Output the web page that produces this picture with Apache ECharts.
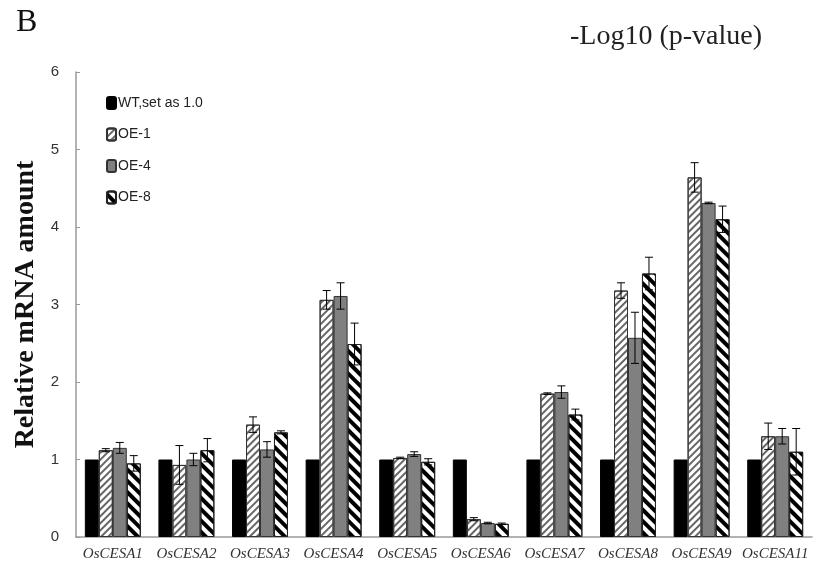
<!DOCTYPE html>
<html>
<head>
<meta charset="utf-8">
<script src="https://cdn.jsdelivr.net/npm/echarts@6/dist/echarts.min.js"></script>
<style>
  html, body { margin: 0; padding: 0; background: #fff; }
  #main { width: 819px; height: 584px; }
</style>
</head>
<body>
<div id="main"></div>
<script>
// 基因名称
var genes = ['OsCESA1', 'OsCESA2', 'OsCESA3', 'OsCESA4', 'OsCESA5',
             'OsCESA6', 'OsCESA7', 'OsCESA8', 'OsCESA9', 'OsCESA11'];
var seriesNames = ['WT,set as 1.0', 'OE-1', 'OE-4', 'OE-8'];

// 相对表达量
var wt  = [1, 1, 1, 1, 1, 1, 1, 1, 1, 1];
var oe1 = [1.12, 0.93, 1.45, 3.06, 1.02, 0.23, 1.85, 3.18, 4.64, 1.30];
var oe4 = [1.15, 1.00, 1.13, 3.11, 1.07, 0.18, 1.87, 2.57, 4.31, 1.30];
var oe8 = [0.95, 1.12, 1.35, 2.49, 0.97, 0.17, 1.58, 3.40, 4.10, 1.10];

// 误差
var oe1Err = [0.02, 0.25, 0.10, 0.12, 0.01, 0.02, 0.01, 0.10, 0.19, 0.17];
var oe4Err = [0.07, 0.08, 0.10, 0.17, 0.03, 0.01, 0.08, 0.33, 0.01, 0.10];
var oe8Err = [0.10, 0.15, 0.02, 0.27, 0.04, 0.01, 0.07, 0.21, 0.17, 0.30];

var yTicks = [0, 1, 2, 3, 4, 5, 6];

var catGap = 0.24;

var chart = echarts.init(document.getElementById('main'));

// 误差线数据 [类别, 下限, 上限, 系列序号]
function errData(vals, errs, idx) {
    return vals.map(function (v, i) {
        return [i, v - errs[i], v + errs[i], idx];
    });
}

function renderErr(params, api) {
    var band = api.size([1, 0])[0];
    var barW = band * (1 - catGap) / 4;
    var idx = api.value(3);
    var off = (idx - 1.5) * barW;
    var lo = api.coord([api.value(0), api.value(1)]);
    var hi = api.coord([api.value(0), api.value(2)]);
    var x = lo[0] + off;
    var cap = 4;
    var st = { stroke: '#000', lineWidth: 1 };
    return {
        type: 'group',
        children: [
            { type: 'line', shape: { x1: x, y1: lo[1], x2: x, y2: hi[1] }, style: st },
            { type: 'line', shape: { x1: x - cap, y1: hi[1], x2: x + cap, y2: hi[1] }, style: st },
            { type: 'line', shape: { x1: x - cap, y1: lo[1], x2: x + cap, y2: lo[1] }, style: st }
        ]
    };
}

var option = {
    animation: false,
    backgroundColor: '#fff',
    title: [
        { text: 'B', left: 11, top: 2,
          textStyle: { fontFamily: 'Liberation Serif', fontSize: 32, fontWeight: 'normal', color: '#111' } },
        { text: '-Log10 (p-value)', left: 565, top: 18,
          textStyle: { fontFamily: 'Liberation Serif', fontSize: 28, fontWeight: 'normal', color: '#222' } }
    ],
    legend: {
        orient: 'vertical',
        left: 101,
        top: 91,
        itemWidth: 9,
        itemHeight: 12,
        itemGap: 17.5,
        data: seriesNames,
        textStyle: { fontFamily: 'Liberation Sans', fontSize: 14, color: '#222', padding: [0, 0, 0, -3] }
    },
    grid: { left: 76, right: 7, top: 72, bottom: 47 },
    xAxis: {
        type: 'category',
        data: genes,
        axisLine: { lineStyle: { color: '#999', width: 1.5 } },
        axisTick: { inside: true, length: 4, lineStyle: { color: '#999' } },
        axisLabel: { interval: 0, fontFamily: 'Liberation Serif', fontStyle: 'italic', fontSize: 15, color: '#333', margin: 10 }
    },
    yAxis: {
        type: 'value',
        min: yTicks[0],
        max: yTicks[yTicks.length - 1],
        interval: 1,
        name: 'Relative mRNA amount',
        nameLocation: 'middle',
        nameGap: 30,
        nameTextStyle: { fontFamily: 'Liberation Serif', fontSize: 28, fontWeight: 'bold', color: '#111' },
        axisLine: { show: true, lineStyle: { color: '#999', width: 1.5 } },
        axisTick: { show: true, inside: true, length: 4, lineStyle: { color: '#999' } },
        axisLabel: { fontFamily: 'Liberation Sans', fontSize: 15, color: '#333', margin: 17 },
        splitLine: { show: false }
    },
    series: [
        {
            name: seriesNames[0], type: 'bar', data: wt,
            barGap: '0%', barCategoryGap: (catGap * 100) + '%',
            itemStyle: { color: '#000', borderColor: '#000', borderWidth: 1 }
        },
        {
            name: seriesNames[1], type: 'bar', data: oe1,
            itemStyle: {
                color: '#fff', borderColor: '#333', borderWidth: 1,
                decal: { symbol: 'rect', symbolSize: 1, dashArrayX: [1, 0], dashArrayY: [1.5, 2.5],
                         rotation: -Math.PI / 4, color: '#666' }
            }
        },
        {
            name: seriesNames[2], type: 'bar', data: oe4,
            itemStyle: { color: '#808080', borderColor: '#333', borderWidth: 1 }
        },
        {
            name: seriesNames[3], type: 'bar', data: oe8,
            itemStyle: {
                color: '#fff', borderColor: '#222', borderWidth: 1,
                decal: { symbol: 'rect', symbolSize: 1, dashArrayX: [1, 0], dashArrayY: [3.5, 4],
                         rotation: Math.PI / 4, color: '#000' }
            }
        },
        { type: 'custom', renderItem: renderErr, data: errData(oe1, oe1Err, 1), z: 10, silent: true },
        { type: 'custom', renderItem: renderErr, data: errData(oe4, oe4Err, 2), z: 10, silent: true },
        { type: 'custom', renderItem: renderErr, data: errData(oe8, oe8Err, 3), z: 10, silent: true }
    ]
};

chart.setOption(option);
</script>
</body>
</html>
